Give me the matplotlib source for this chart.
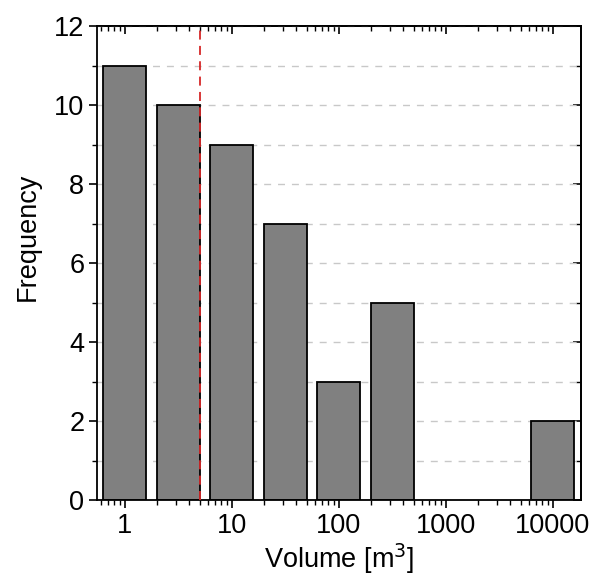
import numpy as np
import matplotlib
matplotlib.use("Agg")
import matplotlib.pyplot as plt
from matplotlib.ticker import LogLocator, MultipleLocator, NullFormatter, FixedLocator

plt.rcParams["font.family"] = ["Liberation Sans", "DejaVu Sans"]

# bin centres (m^3, half-decade bins) and counts
bin_centers = [1, 3.16, 10, 31.6, 100, 316, 1000, 3160, 10000]
counts = [11, 10, 9, 7, 3, 5, 0, 0, 2]
threshold = 5
x_ticks = [1, 10, 100, 1000, 10000]
x_tick_labels = ["1", "10", "100", "1000", "10000"]

fig = plt.figure(figsize=(6.05, 5.79), dpi=100)
ax = fig.add_axes([0.160, 0.136, 0.800, 0.819])

half = 0.2  # bar half-width in decades
for c, n in zip(bin_centers, counts):
    if n == 0:
        continue
    lc = np.log10(c)
    left = 10 ** (lc - half)
    ax.bar(left, n, width=10 ** (lc + half) - left, align="edge",
           color="#808080", edgecolor="black", linewidth=1.3, zorder=2)

ax.axvline(threshold, color="#d62728", linestyle=(0, (5, 3.5)), linewidth=1.3, zorder=3)

ax.set_xscale("log")
ax.set_xlim(0.547, 18300)
ax.set_ylim(0, 12)

ax.xaxis.set_major_locator(FixedLocator(x_ticks))
ax.set_xticklabels(x_tick_labels)
ax.xaxis.set_minor_locator(LogLocator(base=10, subs=np.arange(2, 10)))
ax.xaxis.set_minor_formatter(NullFormatter())
ax.yaxis.set_major_locator(MultipleLocator(2))
ax.yaxis.set_minor_locator(MultipleLocator(1))

ax.grid(True, which="both", axis="y", color="#c8c8c8", linestyle=(0, (5, 5)), linewidth=1, zorder=0)
ax.set_axisbelow(True)

ax.tick_params(which="major", direction="out", length=6, width=1.2, labelsize=19.5, pad=3)
ax.tick_params(which="minor", direction="out", length=3.5, width=1)

# top and right ticks point inward
top = ax.secondary_xaxis("top")
top.set_xscale("log")
top.xaxis.set_major_locator(FixedLocator(x_ticks))
top.xaxis.set_minor_locator(LogLocator(base=10, subs=np.arange(2, 10)))
top.xaxis.set_major_formatter(NullFormatter())
top.xaxis.set_minor_formatter(NullFormatter())
top.tick_params(which="major", direction="in", length=6, width=1.2)
top.tick_params(which="minor", direction="in", length=3.5, width=1)

right = ax.secondary_yaxis("right")
right.yaxis.set_major_locator(MultipleLocator(2))
right.yaxis.set_minor_locator(MultipleLocator(1))
right.yaxis.set_major_formatter(NullFormatter())
right.tick_params(which="major", direction="in", length=6, width=1.2)
right.tick_params(which="minor", direction="in", length=3.5, width=1)

for s in list(ax.spines.values()) + [top.spines["top"], right.spines["right"]]:
    s.set_linewidth(1.3)

ax.set_xlabel("Volume [m$^3$]", fontsize=19.5, labelpad=2)
ax.set_ylabel("Frequency", fontsize=19.5, labelpad=8)
ax.yaxis.set_label_coords(-0.115, 0.555)

fig.savefig("out.png", dpi=100)
